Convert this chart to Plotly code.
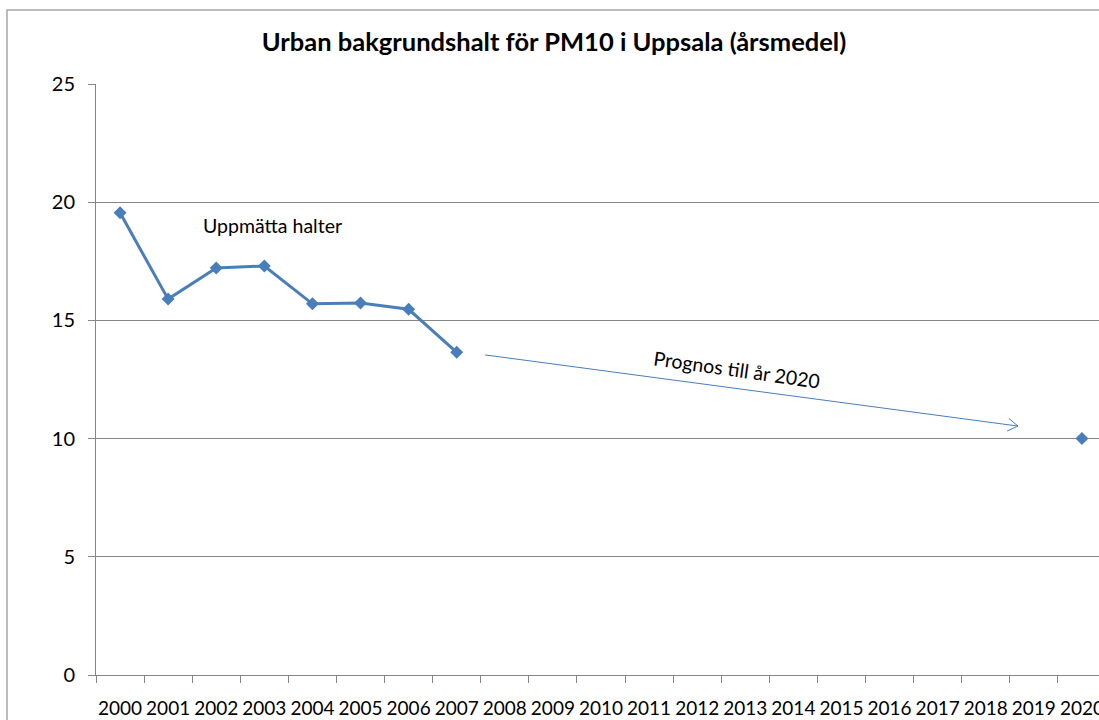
import math
import plotly.graph_objects as go

years = [str(y) for y in range(2000, 2021)]
measured = [19.55, 15.9, 17.22, 17.3, 15.7, 15.74, 15.47, 13.65] + [None] * 13
forecast_year = "2020"
forecast_value = 10.0
y_ticks = [0, 5, 10, 15, 20, 25]

title_text = "Urban bakgrundshalt för PM10 i Uppsala (årsmedel)"
label_measured = "Uppmätta halter"
label_forecast = "Prognos till år 2020"

FONT = "Lato, 'Liberation Sans', sans-serif"
BLUE = "#4a7ebb"
GRID = "#868686"

W, H = 1099, 720
ML, MT, MB = 96, 84, 45
pw = W - ML
ph = H - MT - MB

fig = go.Figure()
fig.add_trace(go.Scatter(
    x=years, y=measured, mode="lines+markers",
    line=dict(color=BLUE, width=3),
    marker=dict(symbol="diamond", size=10, color=BLUE),
    connectgaps=False, showlegend=False, cliponaxis=False,
))
fig.add_trace(go.Scatter(
    x=[forecast_year], y=[forecast_value], mode="markers",
    marker=dict(symbol="diamond", size=10, color=BLUE),
    showlegend=False, cliponaxis=False,
))

# arrow (data index coords on the category axis)
ax0, ay0 = 7.59, 13.54
ax1, ay1 = 18.67, 10.53
fig.add_shape(type="line", xref="x", yref="y", x0=ax0, y0=ay0, x1=ax1, y1=ay1,
              line=dict(color=BLUE, width=1))
dx, dy = 533.0, -71.0
ang = math.atan2(dy, dx)
L = 12
for s in (1, -1):
    a = ang + math.pi + s * math.radians(32)
    fig.add_shape(type="line", xref="x", yref="y",
                  xsizemode="pixel", ysizemode="pixel",
                  xanchor=ax1, yanchor=ay1,
                  x0=0, y0=0, x1=L * math.cos(a), y1=L * math.sin(a),
                  line=dict(color=BLUE, width=1))

fig.add_annotation(x=3.18, y=19.0, xref="x", yref="y", text=label_measured,
                   showarrow=False, font=dict(family=FONT, size=19.5, color="#000"))
fig.add_annotation(x=12.83, y=12.94, xref="x", yref="y", text=label_forecast,
                   showarrow=False, textangle=8,
                   font=dict(family=FONT, size=19.5, color="#000"))

# outer chart border
fig.add_shape(type="rect", xref="paper", yref="paper",
              x0=(7 - ML) / pw, x1=1.2, y0=-0.2, y1=1 + (MT - 10) / ph,
              line=dict(color="#a6a6a6", width=1.5), layer="below")

fig.update_layout(
    width=W, height=H,
    margin=dict(l=ML, r=0, t=MT, b=MB, autoexpand=False),
    paper_bgcolor="white", plot_bgcolor="white",
    font=dict(family=FONT, color="#000"),
    title=dict(text="<b>" + title_text + "</b>", x=(554 - ML) / pw, xref="paper",
               xanchor="center", y=1 - 42 / H, yanchor="middle",
               font=dict(family=FONT, size=25.5, color="#000")),
)
fig.update_xaxes(
    type="category", categoryorder="array", categoryarray=years,
    range=[-0.5, 20.5 - 7 / 48.1], automargin=False, tickangle=0,
    tickson="boundaries", ticks="outside", ticklen=7, tickcolor=GRID,
    showline=True, linecolor=GRID, linewidth=1, showgrid=False,
    tickfont=dict(family=FONT, size=19, color="#000"), ticklabelstandoff=16,
)
fig.update_yaxes(
    range=[0, 25], tickvals=y_ticks, ticks="outside", ticklen=7, tickcolor=GRID,
    showline=True, linecolor=GRID, linewidth=1, automargin=False,
    showgrid=True, gridcolor=GRID, gridwidth=1, zeroline=False,
    tickfont=dict(family=FONT, size=20, color="#000"), ticklabelstandoff=9,
)
fig.write_html(
    "out.html",
    config={"displayModeBar": False},
    post_script="document.body.style.margin='0';"
                "document.documentElement.style.overflow='hidden';",
)
